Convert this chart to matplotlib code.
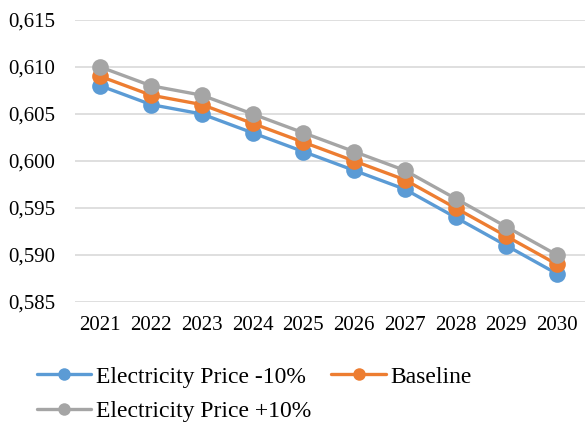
import matplotlib
matplotlib.use("Agg")
import matplotlib.pyplot as plt
from matplotlib.ticker import FuncFormatter, MultipleLocator


plt.rcParams["font.family"] = ["Liberation Serif", "DejaVu Serif"]

years = ["2021", "2022", "2023", "2024", "2025", "2026", "2027", "2028", "2029", "2030"]
price_minus_10 = [0.608, 0.606, 0.605, 0.603, 0.601, 0.599, 0.597, 0.594, 0.591, 0.588]
baseline = [0.609, 0.607, 0.606, 0.604, 0.602, 0.600, 0.598, 0.595, 0.592, 0.589]
price_plus_10 = [0.610, 0.608, 0.607, 0.605, 0.603, 0.601, 0.599, 0.596, 0.593, 0.590]

series = [
    ("Electricity Price -10%", price_minus_10, "#5B9BD5"),
    ("Baseline", baseline, "#ED7D31"),
    ("Electricity Price +10%", price_plus_10, "#A5A5A5"),
]

fig = plt.figure(figsize=(5.85, 4.23), dpi=100)
ax = fig.add_axes([75 / 585, 1 - 302 / 423, 1 - 75 / 585, (302 - 20) / 423])

x = list(range(len(years)))
lines = {}
for label, values, color in series:
    (ln,) = ax.plot(x, values, color=color, linewidth=2.4, marker="o", markersize=12,
                    markeredgewidth=0, label=label, solid_capstyle="round")
    lines[label] = ln

ax.set_xlim(-0.5, 9.55)
ax.set_ylim(0.585, 0.615)
ax.yaxis.set_major_locator(MultipleLocator(0.005))
ax.yaxis.set_major_formatter(FuncFormatter(lambda v, _: f"{v:.3f}".replace(".", ",")))
ax.set_xticks(x)
ax.set_xticklabels(years)

ax.grid(axis="y", color="#D9D9D9", linewidth=1.2)
ax.set_axisbelow(True)
for side in ["top", "right", "left", "bottom"]:
    ax.spines[side].set_visible(False)
ax.tick_params(axis="both", length=0, labelsize=15, colors="black")
ax.tick_params(axis="y", pad=14)
ax.tick_params(axis="x", pad=10)

# legend fills column by column, so order entries to read row by row
order = ["Electricity Price -10%", "Electricity Price +10%", "Baseline"]
leg = fig.legend([lines[k] for k in order], order, loc="upper left", ncol=2, frameon=False,
                 bbox_to_anchor=(37 / 585, 1 - 366 / 423), fontsize=17,
                 handlelength=2.3, handletextpad=0.2, columnspacing=0.85,
                 labelspacing=0.55, borderpad=0, borderaxespad=0)
for h in leg.legend_handles:
    h.set_markersize(9)

fig.savefig("out.png", dpi=100, facecolor="white")
